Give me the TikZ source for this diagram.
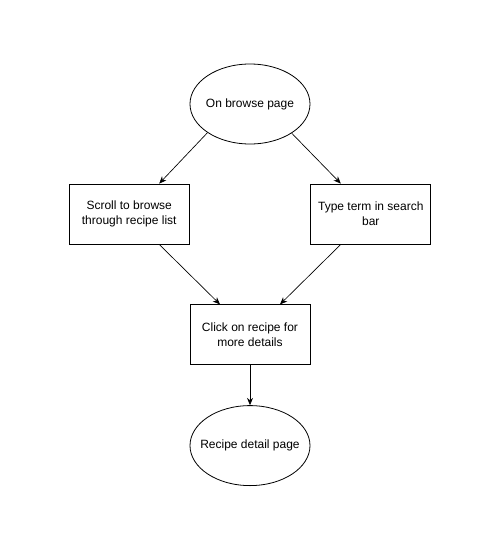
\documentclass[tikz,border=0pt]{standalone}
\usepackage{fontspec}
\setmainfont{Liberation Sans}
\usetikzlibrary{arrows.meta, positioning, shapes.geometric}

\begin{document}
\begin{tikzpicture}[
        font=\fontsize{9}{11.25}\selectfont,
        pagestate/.style={ellipse, draw, line width=0.6pt, minimum width=90pt, minimum height=60pt, inner xsep=-8pt, inner ysep=0pt, align=center},
        action/.style={rectangle, draw, line width=0.6pt, minimum width=90pt, minimum height=45pt, inner sep=0pt, align=center},
        arrow/.style={-{Stealth[length=5.5pt, width=4.5pt]}, line width=0.5pt}
    ]
    \useasboundingbox (-187.5pt,78pt) rectangle (187.5pt,-334.5pt);

    % pages and actions
    \node[pagestate] (browse) {On browse page};
    \node[action, below=120pt of browse] (click) {Click on recipe for\\more details};
    \node[action, above left=45pt and 0pt of click] (scroll) {Scroll to browse\\through recipe list};
    \node[action, above right=45pt and 0pt of click] (type) {Type term in search\\bar};
    \node[pagestate, below=30pt of click] (detail) {Recipe detail page};

    % connections
    \draw[arrow] (browse.214) -- ([xshift=22.5pt]scroll.north);
    \draw[arrow] (browse.-35) -- ([xshift=-22.5pt]type.north);
    \draw[arrow] ([xshift=22.5pt]scroll.south) -- ([xshift=-22.5pt]click.north);
    \draw[arrow] ([xshift=-22.5pt]type.south) -- ([xshift=22.5pt]click.north);
    \draw[arrow] (click) -- (detail);

\end{tikzpicture}
\end{document}
